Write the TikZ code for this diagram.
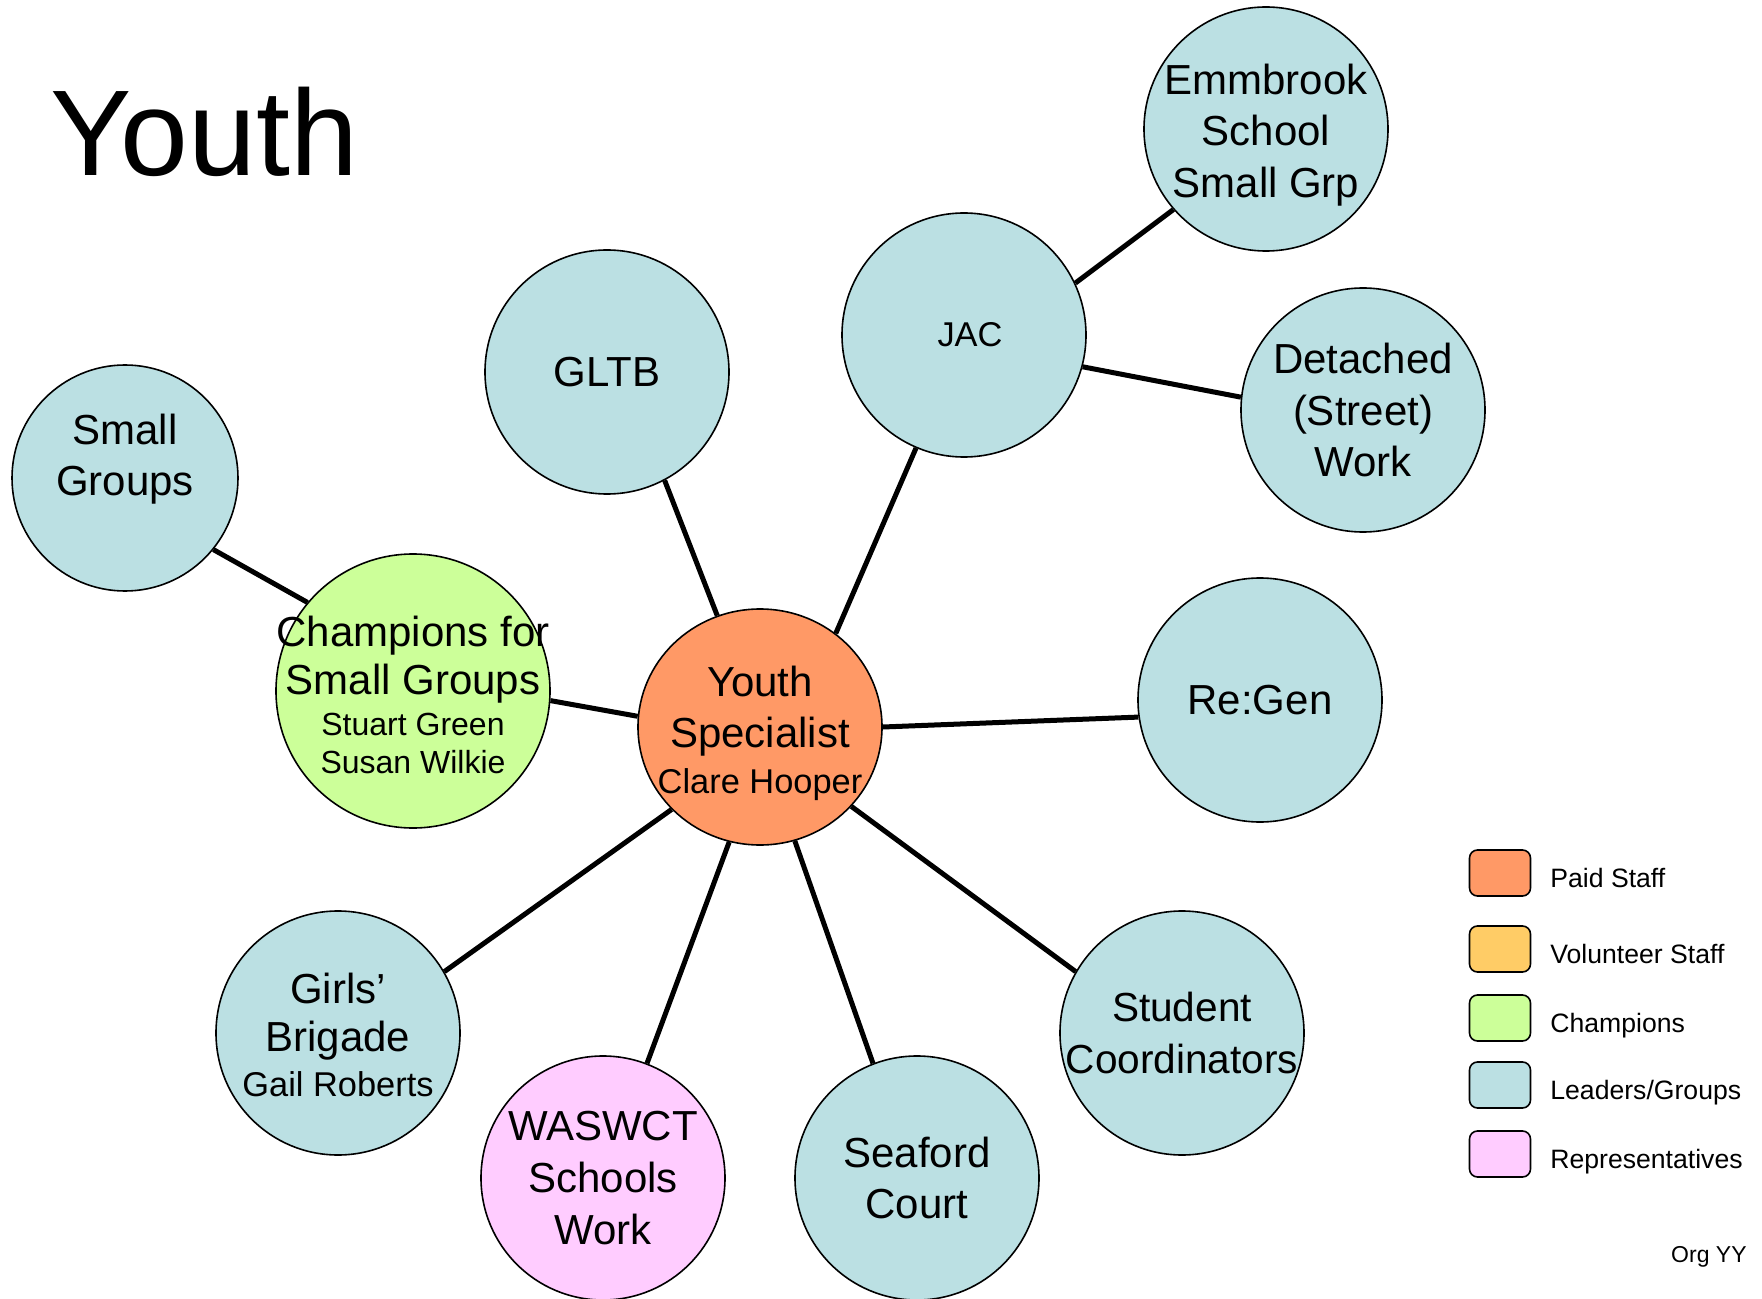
\documentclass[tikz,border=0pt]{standalone}
\usepackage{fontspec}
\setmainfont{Liberation Sans}
\usetikzlibrary{shapes.geometric}

\definecolor{paidcol}{HTML}{FF9966}
\definecolor{volcol}{HTML}{FFCC66}
\definecolor{champcol}{HTML}{CCFF99}
\definecolor{leadcol}{HTML}{BBE0E3}
\definecolor{repcol}{HTML}{FFCCFF}

\newcommand\bigtxt{\fontsize{21}{25.8}\selectfont}
\newcommand\smtxt{\fontsize{17.2}{20}\selectfont}

\tikzset{
  bubble/.style={circle, draw, line width=0.8pt, inner sep=0pt, minimum size=122pt, fill=leadcol},
  every label/.style={align=center, font=\bigtxt, inner sep=0pt},
  link/.style={line width=2.5pt},
  keybox/.style={draw, line width=0.8pt, rounded corners=4pt, minimum width=30.5pt, minimum height=23pt, inner sep=0pt},
  keytxt/.style={anchor=base west, font=\fontsize{13.3}{15}\selectfont, inner sep=0pt},
}

\begin{document}
\begin{tikzpicture}[x=0.5pt, y=-0.5pt]
\useasboundingbox (0,0) rectangle (1762,1299);

\node[anchor=base west, inner sep=0pt, font=\fontsize{61}{64}\selectfont] (title) at (50,176) {Youth};

% the hub
\node[ellipse, draw, line width=0.8pt, inner sep=0pt, minimum width=122pt, minimum height=118pt, fill=paidcol,
      label={[yshift=-3pt]center:{Youth\\Specialist\\[-3pt]{\smtxt Clare Hooper}}}] (ys) at (760,727) {};

% groups round it
\node[bubble, minimum size=113pt, label={[yshift=9.5pt]center:{Small\\Groups}}] (sg) at (125,478) {};
\node[bubble, minimum size=137pt, fill=champcol,
      label={[yshift=-2pt]center:{Champions for\\[-2pt]Small Groups\\[-5pt]{\fontsize{16}{20}\selectfont Stuart Green}\\[-7pt]{\fontsize{16}{20}\selectfont Susan Wilkie}}}] (champ) at (413,691) {};
\node[bubble, label=center:{GLTB}] (gltb) at (607,372) {};
\node[bubble, label={[font=\smtxt, xshift=3pt]center:{JAC}}] (jac) at (964,335) {};
\node[bubble, label={[yshift=-3pt]center:{Emmbrook\\School\\Small Grp}}] (emm) at (1266,129) {};
\node[bubble, label=center:{Detached\\(Street)\\Work}] (det) at (1363,410) {};
\node[bubble, label=center:{Re:Gen}] (regen) at (1260,700) {};
\node[bubble, label={[font=\fontsize{20.3}{25.8}\selectfont]center:{Student\\Coordinators}}] (stud) at (1182,1033) {};
\node[bubble, label=center:{Seaford\\Court}] (sea) at (917,1178) {};
\node[bubble, fill=repcol, label=center:{WASWCT\\Schools\\Work}] (was) at (603,1178) {};
\node[bubble, label={[yshift=-1pt]center:{Girls’\\[-2pt]Brigade\\[-3pt]{\smtxt Gail Roberts}}}] (girls) at (338,1033) {};

\foreach \u/\a/\v/\b in {sg/-39/champ/140, champ/-4/ys/175, gltb/-62/ys/111, jac/-113/ys/51,
                         jac/25/emm/-139, jac/-15/det/174, ys/0/regen/-172, ys/-41/stud/150,
                         ys/-73/sea/111, ys/-105/was/69, ys/-137/girls/30}
{   \draw[link] (\u.\a) -- (\v.\b);
}

% key
\foreach \nm/\y/\col/\txt in {paid/873/paidcol/Paid Staff, vol/949/volcol/Volunteer Staff,
                              champ/1018/champcol/Champions, lead/1085/leadcol/{Leaders/Groups},
                              rep/1154/repcol/Representatives}
{   \node[keybox, fill=\col] (key\nm) at (1500,\y) {};
    \node[keytxt] (lab\nm) at (1550,\y+14) {\txt};
}

\node[anchor=base east, inner sep=0pt, font=\fontsize{11.5}{14}\selectfont] (org) at (1747,1262) {Org YY};
\end{tikzpicture}
\end{document}
